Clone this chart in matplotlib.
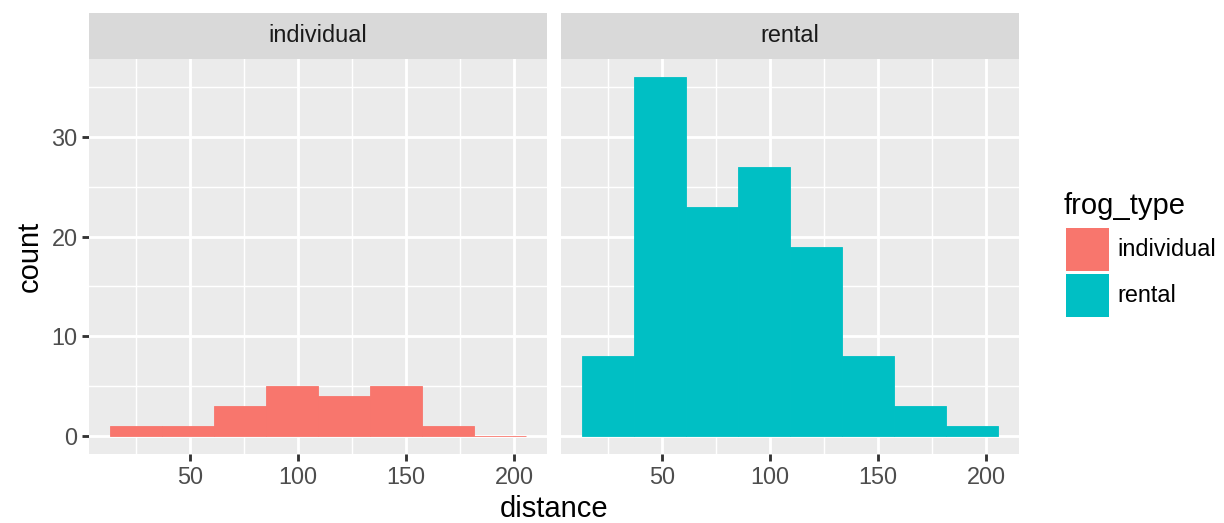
import matplotlib
matplotlib.use("Agg")
import matplotlib.pyplot as plt
from matplotlib.patches import Rectangle
import numpy as np

plt.rcParams["font.family"] = ["Liberation Sans", "DejaVu Sans"]

# Histogram of frog jump distance, faceted by frog type
bin_edges = [12.8, 36.9, 61.0, 85.1, 109.2, 133.3, 157.4, 181.5, 205.6]
frog_types = ["individual", "rental"]
counts_individual = [1, 1, 3, 5, 4, 5, 1, 0]
counts_rental = [8, 36, 23, 27, 19, 8, 3, 1]
colors = {"individual": "#F8766D", "rental": "#00BFC4"}
x_ticks = [50, 100, 150, 200]
x_minor = [25, 75, 125, 175]
y_ticks = [0, 10, 20, 30]
y_minor = [5, 15, 25, 35]

W, H = 1224, 523
fig = plt.figure(figsize=(W / 100, H / 100), dpi=100)


def fx(px):
    return px / W


def fy(py):
    return 1 - py / H


panel_top, panel_bot = 59, 454
strip_top = 13
panels = [(89, 547), (561, 1019)]
series = {"individual": counts_individual, "rental": counts_rental}

edges = np.array(bin_edges)
lefts = edges[:-1]
widths = np.diff(edges)
span = edges[-1] - edges[0]
xlim = (edges[0] - 0.05 * span, edges[-1] + 0.05 * span)
ymax = max(max(counts_individual), max(counts_rental))
ylim = (-0.05 * ymax, ymax * 1.05)

tick_color = "#4D4D4D"
major_lw = 2.05
minor_lw = 1.03

for i, (ftype, (x0, x1)) in enumerate(zip(frog_types, panels)):
    ax = fig.add_axes([fx(x0), fy(panel_bot), fx(x1 - x0), (panel_bot - panel_top) / H])
    ax.set_facecolor("#EBEBEB")
    for s in ax.spines.values():
        s.set_visible(False)
    ax.set_xlim(*xlim)
    ax.set_ylim(*ylim)
    for v in x_minor:
        ax.axvline(v, color="white", lw=minor_lw, zorder=0.5)
    for v in y_minor:
        ax.axhline(v, color="white", lw=minor_lw, zorder=0.5)
    for v in x_ticks:
        ax.axvline(v, color="white", lw=major_lw, zorder=0.6)
    for v in y_ticks:
        ax.axhline(v, color="white", lw=major_lw, zorder=0.6)
    ax.bar(lefts, series[ftype], width=widths, align="edge",
           color=colors[ftype], edgecolor=colors[ftype], linewidth=0.6, zorder=2)
    ax.set_xticks(x_ticks)
    ax.set_xticklabels([str(t) for t in x_ticks])
    ax.set_yticks(y_ticks)
    if i == 0:
        ax.set_yticklabels([str(t) for t in y_ticks])
        ax.tick_params(axis="y", length=5.3, width=major_lw, color="#333333",
                       labelsize=16.9, labelcolor=tick_color, pad=3)
    else:
        ax.tick_params(axis="y", length=0, labelleft=False)
    ax.tick_params(axis="x", length=5.3, width=major_lw, color="#333333",
                   labelsize=16.9, labelcolor=tick_color, pad=3)
    ax.set_axisbelow(True)

    # facet strip
    sax = fig.add_axes([fx(x0), fy(panel_top), fx(x1 - x0), (panel_top - strip_top) / H])
    sax.set_facecolor("#D9D9D9")
    sax.set_xticks([])
    sax.set_yticks([])
    for s in sax.spines.values():
        s.set_visible(False)
    sax.text(0.5, 0.5, ftype, ha="center", va="center", fontsize=16.9,
             color="#1A1A1A", transform=sax.transAxes)

# axis titles
fig.text(fx((89 + 1019) / 2), fy(509), "distance", ha="center", va="center",
         fontsize=21, color="black")
fig.text(fx(30), fy((panel_top + panel_bot) / 2), "count", ha="center", va="center",
         rotation=90, fontsize=21, color="black")

# legend
fig.text(fx(1064), fy(206), "frog_type", ha="left", va="center", fontsize=21, color="black")
key_tops = [228, 274]
for ftype, kt in zip(frog_types, key_tops):
    fig.add_artist(Rectangle((fx(1066), fy(kt + 43)), fx(43), 43 / H,
                             transform=fig.transFigure, facecolor=colors[ftype],
                             edgecolor="none"))
    fig.text(fx(1117), fy(kt + 21.5), ftype, ha="left", va="center",
             fontsize=16.9, color="black")

fig.savefig("out.png", dpi=100)
